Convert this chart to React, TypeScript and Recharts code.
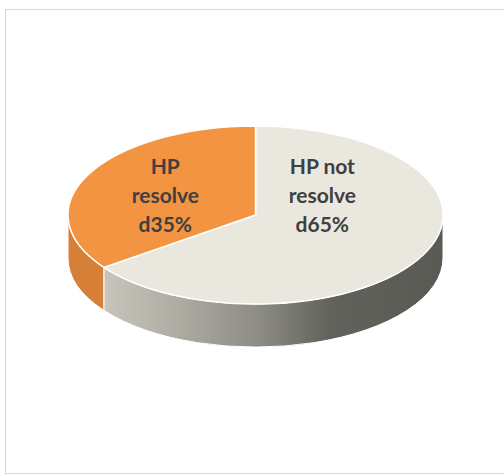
import { PieChart, Pie } from "recharts";

const categories = ["HP not resolved", "HP resolved"];
const values = [65, 35];

const TOP_COLORS = ["#EAE8DE", "#F29441"];
const SIDE_COLORS = ["url(#side-gray)", "#D57F37"];

// 3D look: ellipse squash and wall height
const TILT = 0.475;
const DEPTH = 43;
const RAD = Math.PI / 180;
const LABEL_FRAC = [0.4, 0.54];

const data = categories.map((name, i) => ({
  name,
  value: values[i],
  fill: TOP_COLORS[i],
  side: SIDE_COLORS[i],
}));

function wrap(text: string, max: number) {
  const lines: string[] = [];
  let cur = "";
  for (const word of text.split(" ")) {
    const cand = cur ? cur + " " + word : word;
    if (cand.length <= max) {
      cur = cand;
      continue;
    }
    if (cur) lines.push(cur);
    let w = word;
    while (w.length > max) {
      lines.push(w.slice(0, max));
      w = w.slice(max);
    }
    cur = w;
  }
  if (cur) lines.push(cur);
  return lines;
}

function Slice3D(props: any) {
  const { cx, cy, outerRadius: r, startAngle, endAngle, fill } = props;
  const side = props.side ?? props.payload?.side;
  const ry = r * TILT;
  const pt = (deg: number, dy = 0) =>
    `${cx + r * Math.cos(deg * RAD)},${cy - ry * Math.sin(deg * RAD) + dy}`;

  const lo = Math.min(startAngle, endAngle);
  const hi = Math.max(startAngle, endAngle);
  const walls: [number, number][] = [];
  for (let k = -2; k <= 2; k++) {
    const a = Math.max(lo, -180 + 360 * k);
    const b = Math.min(hi, 360 * k);
    if (b - a > 0.01) walls.push([a, b]);
  }

  const large = Math.abs(endAngle - startAngle) > 180 ? 1 : 0;
  const top = `M${cx},${cy} L${pt(startAngle)} A${r},${ry} 0 ${large} 1 ${pt(endAngle)} Z`;

  return (
    <g>
      <defs>
        <linearGradient id="side-gray" gradientUnits="userSpaceOnUse" x1={cx - r} y1={0} x2={cx + r} y2={0}>
          <stop offset="0%" stopColor="#D3D1C6" />
          <stop offset="25%" stopColor="#B4B2A8" />
          <stop offset="50%" stopColor="#8E8D86" />
          <stop offset="70%" stopColor="#62625C" />
          <stop offset="100%" stopColor="#5A5A54" />
        </linearGradient>
      </defs>
      {walls.map(([a, b], i) => (
        <path
          key={i}
          d={`M${pt(a)} A${r},${ry} 0 0 0 ${pt(b)} L${pt(b, DEPTH)} A${r},${ry} 0 0 1 ${pt(a, DEPTH)} Z`}
          fill={side}
          stroke="#ffffff"
          strokeWidth={1}
        />
      ))}
      <path d={top} fill={fill} stroke="#ffffff" strokeWidth={1.5} />
    </g>
  );
}

function renderLabel(p: any) {
  const { cx, cy, outerRadius: r, midAngle, index, name, percent } = p;
  const x = cx + r * LABEL_FRAC[index] * Math.cos(midAngle * RAD);
  const lines = wrap(`${name}${Math.round(percent * 100)}%`, 7);
  const mid = cy - 12;
  return (
    <text
      x={x}
      y={mid}
      textAnchor="middle"
      fill="#404040"
      fontFamily="Lato, 'Open Sans', sans-serif"
      fontWeight={700}
      fontSize={21}
    >
      {lines.map((line, i) => (
        <tspan key={i} x={x} y={mid + (i - (lines.length - 1) / 2) * 29}>
          {line}
        </tspan>
      ))}
    </text>
  );
}

export default function App() {
  return (
    <div style={{ position: "absolute", left: 0, top: 0, width: 504, height: 474, background: "#fff", overflow: "hidden" }}>
      <div
        style={{
          position: "absolute",
          left: 5,
          top: 9,
          width: 520,
          height: 463,
          border: "1px solid #d6d6d6",
        }}
      />
      <PieChart width={504} height={474} margin={{ top: 0, right: 0, bottom: 0, left: 0 }} style={{ position: "absolute", left: 0, top: 0 }}>
        <Pie
          data={data}
          dataKey="value"
          nameKey="name"
          cx={255.5}
          cy={215}
          outerRadius={187.5}
          startAngle={90}
          endAngle={-270}
          shape={Slice3D}
          label={renderLabel}
          labelLine={false}
          isAnimationActive={false}
        />
      </PieChart>
    </div>
  );
}
